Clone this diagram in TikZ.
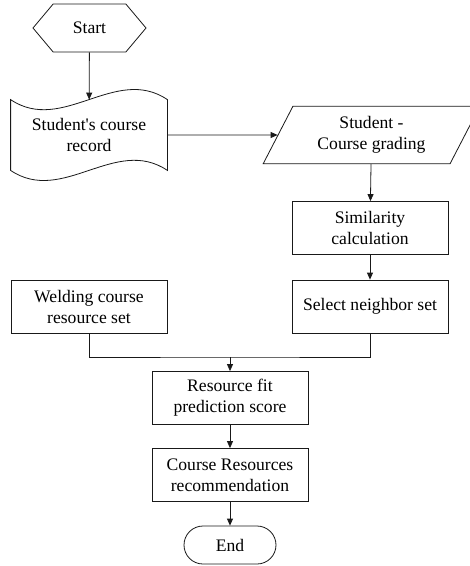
\documentclass[tikz,border=0pt]{standalone}
\usepackage{fontspec}
\setmainfont{Liberation Serif}[Ligatures=TeXOff]
\usetikzlibrary{arrows.meta,shapes.geometric,shapes.symbols,shapes.misc}

\begin{document}
\begin{tikzpicture}[x=1pt,y=-1pt,
    every node/.style={draw=black!90,line width=0.8pt,align=center,inner sep=2pt,
      font=\fontsize{17.6}{21}\selectfont},
    boxnode/.style={rectangle,minimum width=156pt,minimum height=53pt},
    flow/.style={draw=black!90,line width=0.8pt,-{Triangle[length=7pt,width=6pt]}}]
  \useasboundingbox (0,0) rectangle (470,566);
  \node[signal,signal to=west and east,signal pointer angle=100,
    minimum width=113pt,minimum height=48pt] (start) at (89.5,28) {Start};
  \node[draw=none,minimum width=156pt,minimum height=70pt]
    (record) at (89,135) {Student's course\\record};
  \draw[black!90,line width=0.8pt] (record.north west)
    .. controls +(52,35) and +(-52,-35) .. (record.north east)
    -- (record.south east)
    .. controls +(-52,-35) and +(52,35) .. (record.south west) -- cycle;
  \node[trapezium,trapezium left angle=62.6,trapezium right angle=117.4,
    minimum width=217pt,minimum height=54pt]
    (grade) at (371.5,135) {Student -\\Course grading};
  \node[boxnode] (simil) at (370,228) {Similarity\\calculation};
  \node[boxnode] (select) at (370,306.5) {Select neighbor set};
  \node[boxnode] (weld) at (89,306.5) {Welding course\\resource set};
  \node[boxnode] (fit) at (230,398) {Resource fit\\prediction score};
  \node[boxnode] (recom) at (230,475) {Course Resources\\recommendation};
  \node[rounded rectangle,minimum width=96pt,minimum height=38pt]
    (end) at (230,545) {End};
  \coordinate (join) at (230,357);
  \draw[flow] (start) -- (record);
  \draw[flow] (record) -- (grade);
  \draw[flow] (grade) -- (simil);
  \draw[flow] (simil) -- (select);
  \draw[draw=black!90,line width=0.8pt] (weld.south) |- (join) -| (select.south);
  \draw[flow] (join) -- (fit);
  \draw[flow] (fit) -- (recom);
  \draw[flow] (recom) -- (end);
\end{tikzpicture}
\end{document}
